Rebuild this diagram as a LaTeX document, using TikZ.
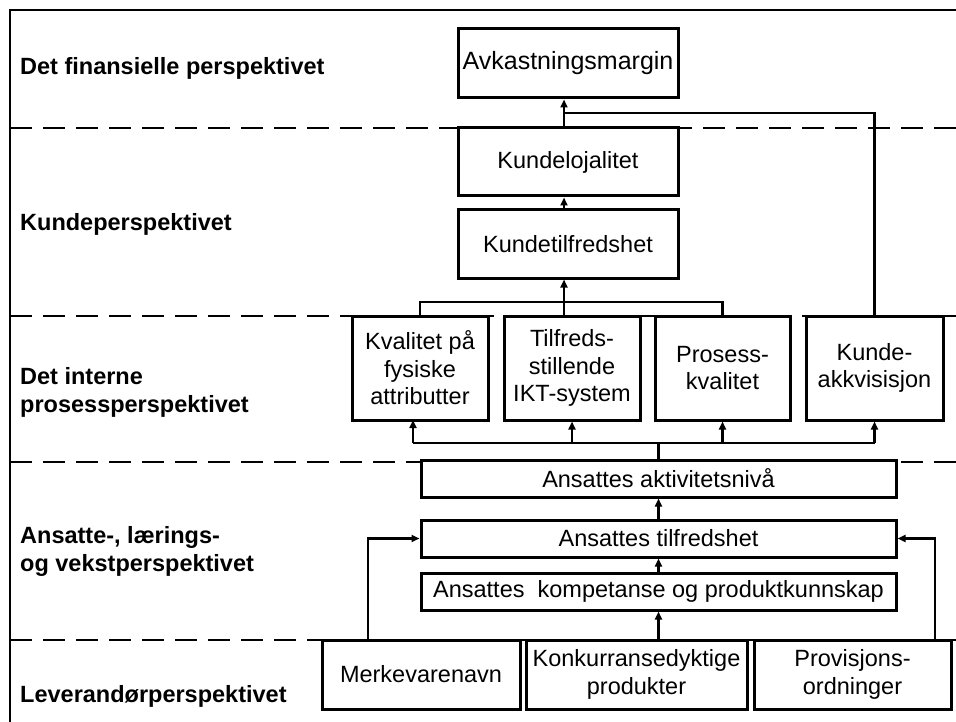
\documentclass[tikz,border=0pt]{standalone}
\usepackage{fontspec}
\setmainfont{Liberation Sans}
\usetikzlibrary{arrows.meta}
\begin{document}
\begin{tikzpicture}[x=1pt,y=-1pt,
  box/.style={draw, line width=3pt, fill=white, align=center, inner sep=0pt,
    font=\fontsize{23.5}{27.5}\selectfont},
  lbl/.style={anchor=west, align=left, inner sep=0pt,
    font=\fontsize{23.5}{28}\selectfont\bfseries},
  conn/.style={line width=2.5pt},
  arr/.style={conn, -{Triangle[length=8pt,width=7pt]}},
  sep/.style={line width=2.4pt, dash pattern=on 22pt off 11pt},
  frame/.style={line width=1.2pt}]
\useasboundingbox (0,0) rectangle (956,722);

% frame
\draw[frame] (10,722) -- (10,10) -- (956,10);

% layer separators
\foreach \yy in {128,316,462,640}
  \draw[sep] (10,\yy) -- (956,\yy);

% layer titles
\node[lbl] (t1) at (20,68)  {Det finansielle perspektivet};
\node[lbl] (t2) at (20,224) {Kundeperspektivet};
\node[lbl] (t3) at (20,392) {Det interne\\prosessperspektivet};
\node[lbl] (t4) at (20,551) {Ansatte-, lærings-\\og vekstperspektivet};
\node[lbl] (t5) at (20,696) {Leverandørperspektivet};

% boxes
\node[box, minimum width=220, minimum height=69, font=\fontsize{25}{29}\selectfont]
  (avk) at (568,63.5) {Avkastningsmargin};
\node[box, minimum width=220, minimum height=68] (kl)  at (568,162) {Kundelojalitet};
\node[box, minimum width=220, minimum height=68] (kt)  at (568,244) {Kundetilfredshet};

\node[box, minimum width=136, minimum height=104] (k1) at (420,368)   {Kvalitet på\\fysiske\\attributter};
\node[box, minimum width=136, minimum height=104] (k2) at (572,368)   {Tilfreds-\\stillende\\IKT-system};
\node[box, minimum width=135, minimum height=104] (k3) at (722.5,368) {Prosess-\\kvalitet};
\node[box, minimum width=137, minimum height=104] (k4) at (874.5,368) {Kunde-\\akkvisisjon};

\node[box, minimum width=475, minimum height=37] (aa) at (658.5,478.5) {Ansattes aktivitetsnivå};
\node[box, minimum width=475, minimum height=37] (at) at (658.5,538.5) {Ansattes tilfredshet};
\node[box, minimum width=475, minimum height=37] (ak) at (658.5,591.5) {Ansattes\ \ kompetanse og produktkunnskap};

\node[box, minimum width=198, minimum height=69] (m)  at (421,674.5)   {Merkevarenavn};
\node[box, minimum width=221, minimum height=69] (ko) at (636.5,674.5) {Konkurransedyktige\\produkter};
\node[box, minimum width=197, minimum height=69] (pr) at (852.5,674.5) {Provisjons-\\ordninger};

% junction points
\coordinate (jtop) at (564,113);
\coordinate (jmid) at (564,302);
\coordinate (jlow) at (658.5,443);
\coordinate (mup)  at (368,640);
\coordinate (pup)  at (935,640);
\coordinate (k1in) at (413,420);

% customer / financial links
\draw[arr] (kl.north -| jtop) -- (avk.south -| jtop);
\draw[conn] (k4.north) |- (jtop);
\draw[arr] (kt.north -| jtop) -- (kl.south -| jtop);
\draw[conn] (k1.north) |- (jmid) -| (k3.north);
\draw[arr] (k2.north -| jmid) -- (kt.south -| jmid);

% internal process inputs
\draw[conn] (aa.north) -- (jlow);
\draw[conn] (jlow -| k1in) -- (jlow -| k4.south);
\draw[arr] (jlow -| k1in) -- (k1in);
\draw[arr] (jlow -| k2.south) -- (k2.south);
\draw[arr] (jlow -| k3.south) -- (k3.south);
\draw[arr] (jlow -| k4.south) -- (k4.south);

% employee chain
\draw[arr] (at.north) -- (aa.south);
\draw[arr] (ak.north) -- (at.south);
\draw[arr] (ko.north -| ak.south) -- (ak.south);
\draw[arr] (mup) |- (at.west);
\draw[arr] (pup) |- (at.east);
\end{tikzpicture}
\end{document}
